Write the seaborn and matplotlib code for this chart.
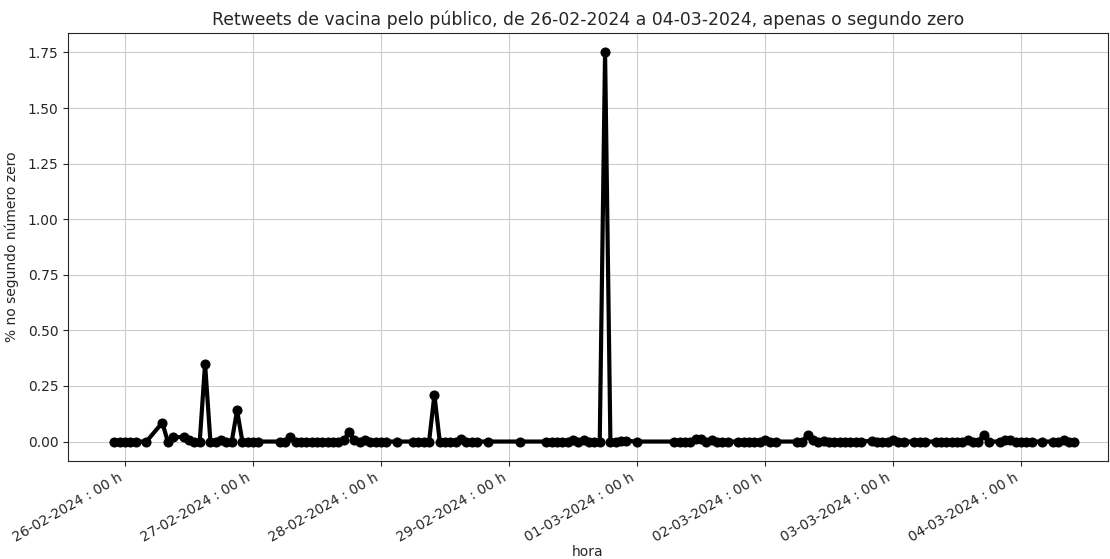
import pandas as pd
import matplotlib
matplotlib.use("Agg")
import matplotlib.pyplot as plt
import matplotlib.dates as mdates
import seaborn as sns

# hours counted from 26-02-2024 00h, and % of retweets (rows aligned)
hours = [-2, -1, 0, 1, 2, 4, 7, 8, 9, 11, 12, 13, 14, 15, 16, 17, 18, 19, 20, 21,
         22, 23, 24, 25, 29, 30, 31, 32, 33, 34, 35, 36, 37, 38, 39, 40, 41, 42, 43,
         44, 45, 46, 47, 48, 49, 51, 54, 55, 56, 57, 58, 59, 60, 61, 62, 63, 64, 65,
         66, 68, 74, 79, 80, 81, 82, 83, 84, 85, 86, 87, 88, 89, 90, 91, 92, 93, 94,
         96, 103, 104, 105, 106, 107, 108, 109, 110, 111, 112, 113, 115, 116, 117,
         118, 119, 120, 121, 122, 126, 127, 128, 129, 130, 131, 132, 133, 134, 135,
         136, 137, 138, 140, 141, 142, 143, 144, 145, 146, 148, 149, 150, 152, 153,
         154, 155, 156, 157, 158, 159, 160, 161, 162, 164, 165, 166, 167, 168, 169,
         170, 172, 174, 175, 176, 177, 178]
values = [0, 0, 0, 0, 0, 0, 0.085, 0, 0.02, 0.02, 0.005, 0, 0, 0.35, 0, 0, 0.005, 0, 0, 0.14,
          0, 0, 0, 0, 0, 0, 0.02, 0, 0, 0, 0, 0, 0, 0, 0, 0, 0.005, 0.045, 0.005,
          0, 0.005, 0, 0, 0, 0, 0, 0, 0, 0, 0, 0.21, 0, 0, 0, 0, 0.01, 0, 0,
          0, 0, 0, 0, 0, 0, 0, 0, 0.005, 0, 0.005, 0, 0, 0, 1.75, 0, 0, 0.003, 0.003,
          0, 0, 0, 0, 0, 0.01, 0.01, 0, 0.005, 0, 0, 0, 0, 0, 0,
          0, 0, 0.008, 0, 0, 0, 0, 0.03, 0.005, 0, 0.003, 0, 0, 0, 0,
          0, 0, 0, 0.003, 0, 0, 0, 0.005, 0, 0, 0, 0, 0, 0, 0,
          0, 0, 0, 0, 0.005, 0, 0, 0.03, 0, 0, 0.005, 0.005, 0, 0, 0,
          0, 0, 0, 0, 0.005, 0, 0]

base = pd.Timestamp("2024-02-26 00:00")
df = pd.DataFrame({"hora": [base + pd.Timedelta(hours=h) for h in hours],
                   "pct": values})

sns.set_style("ticks", rc={"axes.grid": True, "grid.color": "#cccccc",
                           "axes.edgecolor": "#262626"})
plt.rcParams['font.family'] = ['DejaVu Sans']
plt.rcParams['font.size'] = 10

fig, ax = plt.subplots(figsize=(11.1, 5.59), dpi=100)
fig.subplots_adjust(left=68/1110, right=1108/1110, top=1-33/559, bottom=1-461/559)

sns.lineplot(data=df, x="hora", y="pct", color="black", linewidth=3,
             marker="o", markersize=6.5, markeredgecolor="black", ax=ax)

ax.grid(True, color="#cccccc", linewidth=0.8)
ax.set_xlim(base + pd.Timedelta(hours=-10.7), base + pd.Timedelta(hours=184.3))
ax.xaxis.set_major_locator(mdates.DayLocator())
ax.xaxis.set_major_formatter(mdates.DateFormatter("%d-%m-%Y : %H h"))
plt.setp(ax.get_xticklabels(), rotation=30, ha="right")
ax.set_xlabel("hora", labelpad=0)
ax.set_ylabel("% no segundo número zero", labelpad=6)
ax.set_title("Retweets de vacina pelo público, de 26-02-2024 a 04-03-2024, apenas o segundo zero",
             fontsize=12.4)

plt.savefig("out.png", dpi=100)
plt.close()
